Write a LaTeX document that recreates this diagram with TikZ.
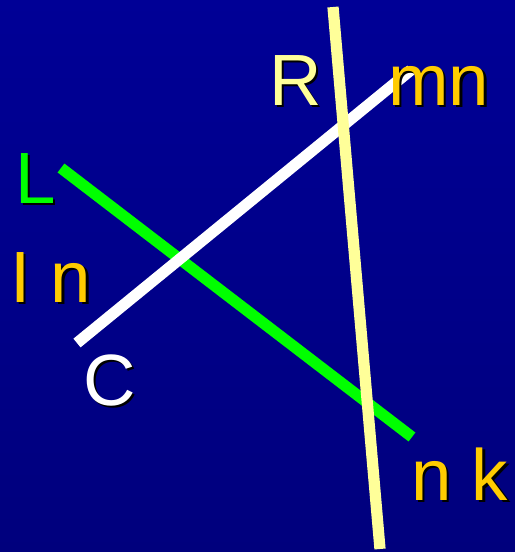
\documentclass[tikz,border=0pt]{standalone}
\usepackage{fontspec}
\setmainfont{Liberation Sans}
\definecolor{bgtop}{RGB}{0,0,150}
\definecolor{bgbot}{RGB}{0,0,125}
\definecolor{gold}{RGB}{255,204,0}
\definecolor{paleyellow}{RGB}{255,255,153}
\definecolor{brightgreen}{RGB}{0,255,0}
% text with a black drop shadow
\newcommand{\shadowed}[2]{\makebox[0pt][l]{\hspace{2.2pt}\raisebox{-2.2pt}{\color{black}#2}}\textcolor{#1}{#2}}
\tikzset{
  bar/.style={line width=9.6pt,line cap=butt},
  lbl/.style={anchor=base west,inner sep=0pt,font=\fontsize{62}{70}\selectfont}
}
\begin{document}
\begin{tikzpicture}[x=0.03cm,y=-0.03cm]
  % background
  \shade[top color=bgtop,bottom color=bgbot] (0,0) rectangle (515,552);
  \useasboundingbox (0,0) rectangle (515,552);
  % line ends
  \coordinate (g1) at (61,168);
  \coordinate (g2) at (412,437);
  \coordinate (w1) at (77,343);
  \coordinate (w2) at (411,70);
  \coordinate (y1) at (333,7);
  \coordinate (y2) at (380,549);
  % lines
  \draw[bar,brightgreen] (g1) -- (g2);
  \draw[bar,white] (w1) -- (w2);
  \draw[bar,paleyellow] (y1) -- (y2);
  % labels
  \foreach \n/\x/\y/\t/\c in {L/15/203/L/brightgreen, In/10/302/I n/gold,
      C/83/405/C/white, R/269/105/R/paleyellow, mn/388/105/mn/gold,
      nk/411/500/n k/gold}{
    \node[lbl] (\n) at (\x,\y) {\shadowed{\c}{\t}};
  }
\end{tikzpicture}
\end{document}
